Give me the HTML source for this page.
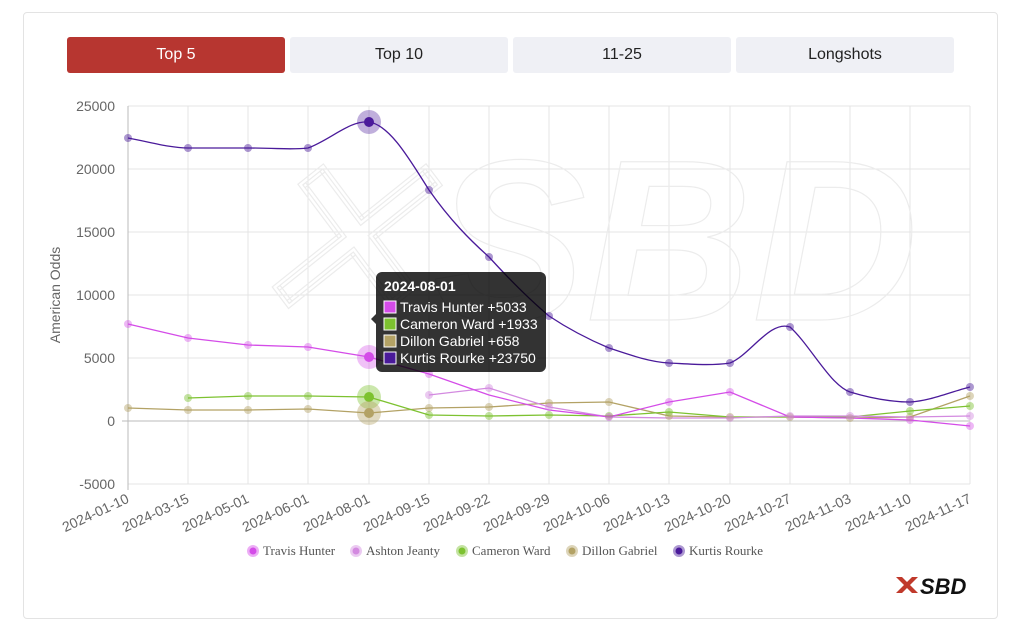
<!DOCTYPE html>
<html><head><meta charset="utf-8"><style>
body{margin:0;background:#fff;font-family:"Liberation Sans",sans-serif;}
.card{position:absolute;left:23px;top:12px;width:973px;height:605px;border:1px solid #e3e3e3;border-radius:4px;}
.btn{position:absolute;top:37px;height:36px;width:218px;border-radius:3px;background:#eff0f5;color:#222;font-size:16px;line-height:36px;text-align:center;}
</style></head><body>
<div class="card"></div>
<div class="btn" style="left:67px;background:#b73630;color:#fff">Top 5</div>
<div class="btn" style="left:290px">Top 10</div>
<div class="btn" style="left:513px">11-25</div>
<div class="btn" style="left:736px">Longshots</div>
<svg width="1023" height="630" style="position:absolute;left:0;top:0" font-family="Liberation Sans, sans-serif">
<g stroke="#e4e4e4" stroke-width="1">
<line x1="128" y1="106" x2="970" y2="106"/><line x1="128" y1="169" x2="970" y2="169"/><line x1="128" y1="232" x2="970" y2="232"/><line x1="128" y1="295" x2="970" y2="295"/><line x1="128" y1="358" x2="970" y2="358"/><line x1="128" y1="484" x2="970" y2="484"/>
<line x1="188" y1="106" x2="188" y2="484"/><line x1="248" y1="106" x2="248" y2="484"/><line x1="308" y1="106" x2="308" y2="484"/><line x1="369" y1="106" x2="369" y2="484"/><line x1="429" y1="106" x2="429" y2="484"/><line x1="489" y1="106" x2="489" y2="484"/><line x1="549" y1="106" x2="549" y2="484"/><line x1="609" y1="106" x2="609" y2="484"/><line x1="669" y1="106" x2="669" y2="484"/><line x1="730" y1="106" x2="730" y2="484"/><line x1="790" y1="106" x2="790" y2="484"/><line x1="850" y1="106" x2="850" y2="484"/><line x1="910" y1="106" x2="910" y2="484"/><line x1="970" y1="106" x2="970" y2="484"/>
</g>
<line x1="122" y1="421" x2="970" y2="421" stroke="#bbb"/>
<line x1="128" y1="106" x2="128" y2="490" stroke="#bbb"/>
<text x="240" y="320" font-size="230" font-style="italic" font-weight="bold" fill="none" stroke="#ececec" stroke-width="1.2">✕SBD</text>
<g font-size="14" fill="#666" text-anchor="end">
<text x="115" y="111">25000</text><text x="115" y="174">20000</text><text x="115" y="237">15000</text><text x="115" y="300">10000</text><text x="115" y="363">5000</text><text x="115" y="426">0</text><text x="115" y="489">-5000</text>
</g>
<text transform="translate(60,295) rotate(-90)" font-size="14" fill="#666" text-anchor="middle">American Odds</text>
<g font-size="14" fill="#666" text-anchor="end">
<text transform="translate(130,502) rotate(-25)">2024-01-10</text><text transform="translate(190,502) rotate(-25)">2024-03-15</text><text transform="translate(250,502) rotate(-25)">2024-05-01</text><text transform="translate(310,502) rotate(-25)">2024-06-01</text><text transform="translate(371,502) rotate(-25)">2024-08-01</text><text transform="translate(431,502) rotate(-25)">2024-09-15</text><text transform="translate(491,502) rotate(-25)">2024-09-22</text><text transform="translate(551,502) rotate(-25)">2024-09-29</text><text transform="translate(611,502) rotate(-25)">2024-10-06</text><text transform="translate(671,502) rotate(-25)">2024-10-13</text><text transform="translate(732,502) rotate(-25)">2024-10-20</text><text transform="translate(792,502) rotate(-25)">2024-10-27</text><text transform="translate(852,502) rotate(-25)">2024-11-03</text><text transform="translate(912,502) rotate(-25)">2024-11-10</text><text transform="translate(972,502) rotate(-25)">2024-11-17</text>
</g>
<g fill="none" stroke-width="1.3">
<polyline stroke="#b3a265" points="128,408 188,410 248,410 308,409 369,413 429,408 489,407 549,403 609,402 669,416 730,417 790,417 850,418 910,417 970,396"/>
<polyline stroke="#7dc230" points="188,398 248,396 308,396 369,397 429,415 489,416 549,415 609,416 669,412 730,417 790,417 850,417 910,411 970,406"/>
<polyline stroke="#d38ae0" points="429,395 489,388 549,407 609,417 669,418 730,418 790,416 850,416 910,417 970,416"/>
<polyline stroke="#d44ce8" points="128,324 188,338 248,345 308,347 369,357 429,374 489,395 549,410 609,417 669,402 730,392 790,417 850,418 910,420 970,426"/>
<path stroke="#4a1a9a" d="M128,138 C150,142 170,148 188,148 L248,148 C280,148 290,150 308,148 C330,140 350,120 369,122 C390,125 410,160 429,190 C450,220 470,240 489,257 C510,280 530,300 549,316 C570,330 590,340 609,348 C630,355 650,362 669,363 C690,364 710,366 730,363 C750,355 770,320 790,327 C810,345 830,385 850,392 C870,398 890,402 910,402 C930,401 950,392 970,387"/>
</g>
<g fill="#b3a265" fill-opacity=".45"><circle cx="128" cy="408" r="4"/><circle cx="188" cy="410" r="4"/><circle cx="248" cy="410" r="4"/><circle cx="308" cy="409" r="4"/><circle cx="429" cy="408" r="4"/><circle cx="489" cy="407" r="4"/><circle cx="549" cy="403" r="4"/><circle cx="609" cy="402" r="4"/><circle cx="669" cy="416" r="4"/><circle cx="730" cy="417" r="4"/><circle cx="790" cy="417" r="4"/><circle cx="850" cy="418" r="4"/><circle cx="910" cy="417" r="4"/><circle cx="970" cy="396" r="4"/></g>
<g fill="#7dc230" fill-opacity=".45"><circle cx="188" cy="398" r="4"/><circle cx="248" cy="396" r="4"/><circle cx="308" cy="396" r="4"/><circle cx="429" cy="415" r="4"/><circle cx="489" cy="416" r="4"/><circle cx="549" cy="415" r="4"/><circle cx="609" cy="416" r="4"/><circle cx="669" cy="412" r="4"/><circle cx="910" cy="411" r="4"/><circle cx="970" cy="406" r="4"/></g>
<g fill="#d38ae0" fill-opacity=".45"><circle cx="429" cy="395" r="4"/><circle cx="489" cy="388" r="4"/><circle cx="549" cy="407" r="4"/><circle cx="730" cy="418" r="4"/><circle cx="790" cy="416" r="4"/><circle cx="850" cy="416" r="4"/><circle cx="970" cy="416" r="4"/></g>
<g fill="#d44ce8" fill-opacity=".4"><circle cx="128" cy="324" r="4"/><circle cx="188" cy="338" r="4"/><circle cx="248" cy="345" r="4"/><circle cx="308" cy="347" r="4"/><circle cx="429" cy="374" r="4"/><circle cx="609" cy="417" r="4"/><circle cx="669" cy="402" r="4"/><circle cx="730" cy="392" r="4"/><circle cx="910" cy="420" r="4"/><circle cx="970" cy="426" r="4"/></g>
<g fill="#4a1a9a" fill-opacity=".45"><circle cx="128" cy="138" r="4"/><circle cx="188" cy="148" r="4"/><circle cx="248" cy="148" r="4"/><circle cx="308" cy="148" r="4"/><circle cx="429" cy="190" r="4"/><circle cx="489" cy="257" r="4"/><circle cx="549" cy="316" r="4"/><circle cx="609" cy="348" r="4"/><circle cx="669" cy="363" r="4"/><circle cx="730" cy="363" r="4"/><circle cx="790" cy="327" r="4"/><circle cx="850" cy="392" r="4"/><circle cx="910" cy="402" r="4"/><circle cx="970" cy="387" r="4"/></g>
<circle cx="369" cy="122" r="12" fill="#4a1a9a" fill-opacity=".35"/><circle cx="369" cy="122" r="5" fill="#4a1a9a"/>
<circle cx="369" cy="357" r="12" fill="#d44ce8" fill-opacity=".35"/><circle cx="369" cy="357" r="5" fill="#d44ce8"/>
<circle cx="369" cy="397" r="12" fill="#7dc230" fill-opacity=".4"/><circle cx="369" cy="397" r="5" fill="#7dc230"/>
<circle cx="369" cy="413" r="12" fill="#b3a265" fill-opacity=".4"/><circle cx="369" cy="413" r="5" fill="#b3a265"/>
<path d="M376,278 a6,6 0 0 1 6,-6 h158 a6,6 0 0 1 6,6 v88 a6,6 0 0 1 -6,6 h-158 a6,6 0 0 1 -6,-6 v-42 l-5,-5 l5,-5 z" fill="#000" fill-opacity=".8"/>
<text x="384" y="291" fill="#fff" font-size="14" font-weight="bold">2024-08-01</text>
<g font-size="14" fill="#fff">
<rect x="384" y="301" width="12" height="12" fill="#d44ce8" stroke="#fff"/><text x="400" y="312">Travis Hunter +5033</text>
<rect x="384" y="318" width="12" height="12" fill="#7dc230" stroke="#fff"/><text x="400" y="329">Cameron Ward +1933</text>
<rect x="384" y="335" width="12" height="12" fill="#b3a265" stroke="#fff"/><text x="400" y="346">Dillon Gabriel +658</text>
<rect x="384" y="352" width="12" height="12" fill="#4a1a9a" stroke="#fff"/><text x="400" y="363">Kurtis Rourke +23750</text>
</g>
<g font-size="13" fill="#555" font-family="Liberation Serif, serif">
<circle cx="253" cy="551" r="6" fill="#d44ce8" fill-opacity=".45"/><circle cx="253" cy="551" r="3.5" fill="#d44ce8"/><text x="263" y="555">Travis Hunter</text>
<circle cx="356" cy="551" r="6" fill="#d38ae0" fill-opacity=".45"/><circle cx="356" cy="551" r="3.5" fill="#d38ae0"/><text x="366" y="555">Ashton Jeanty</text>
<circle cx="462" cy="551" r="6" fill="#7dc230" fill-opacity=".45"/><circle cx="462" cy="551" r="3.5" fill="#7dc230"/><text x="472" y="555">Cameron Ward</text>
<circle cx="572" cy="551" r="6" fill="#b3a265" fill-opacity=".45"/><circle cx="572" cy="551" r="3.5" fill="#b3a265"/><text x="582" y="555">Dillon Gabriel</text>
<circle cx="679" cy="551" r="6" fill="#4a1a9a" fill-opacity=".45"/><circle cx="679" cy="551" r="3.5" fill="#4a1a9a"/><text x="689" y="555">Kurtis Rourke</text>
</g>
<path d="M896,577 l8,8 l-8,8 h6 l5,-5 l5,5 h6 l-8,-8 l8,-8 h-6 l-5,5 l-5,-5z" fill="#c0392b"/>
<text x="920" y="594" font-size="22" font-weight="bold" font-style="italic" fill="#111">SBD</text>
</svg>
</body></html>
